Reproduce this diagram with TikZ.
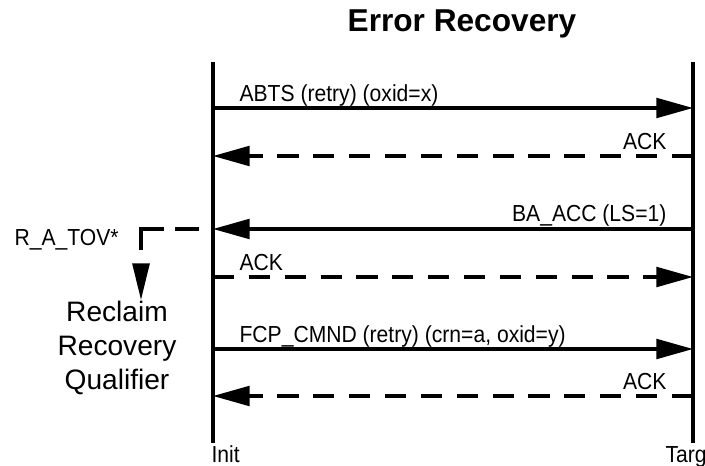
\documentclass[tikz,border=0pt]{standalone}
\usepackage{fontspec}
\setmainfont{Liberation Sans}
\newfontfamily\narrowsans[FakeStretch=0.91]{Liberation Sans}
\usetikzlibrary{positioning, arrows.meta}

\begin{document}
\begin{tikzpicture}[
  x=0.025cm, y=-0.025cm,
  line width=2.2pt,
  msg/.style={-{Triangle[length=26pt, width=14pt]}},
  dashes/.style={dash pattern=on 15pt off 10.5pt},
  reply/.style={msg, dashes},
  lbl/.style={font=\narrowsans\fontsize{16.5}{20}\selectfont, inner sep=0pt},
]
  \useasboundingbox (0,0) rectangle (705,466);
  \node[font=\bfseries\fontsize{22.5}{27}\selectfont, anchor=base] (title) at (462,32) {Error Recovery};

  \coordinate (initTop) at (213,62);
  \coordinate (initBot) at (213,443);
  \coordinate (targTop) at (693,62);
  \coordinate (targBot) at (693,443);
  \draw (initTop) -- (initBot);
  \draw (targTop) -- (targBot);
  \node[lbl, anchor=base west] (init) at (210,462) {Init};
  \node[lbl, anchor=base west] (targ) at (664,462) {Targ};

  \foreach \n/\y in {1/108, 2/156, 3/229, 4/277, 5/349, 6/396} {
    \coordinate (i\n) at (213,\y);
    \coordinate (t\n) at (693,\y);
  }

  \draw[msg] (i1) -- (t1);
  \node[lbl, anchor=base west] (abts) at (238,102) {ABTS (retry) (oxid=x)};
  \draw[reply] (t2) -- (i2);
  \node[lbl, anchor=base east] (ack1) at (668,149) {ACK};
  \draw[msg] (t3) -- (i3);
  \node[lbl, anchor=base east] (baacc) at (668,221) {BA\_ACC (LS=1)};
  \draw[reply] (i4) -- (t4);
  \node[lbl, anchor=base west] (ack2) at (238,270) {ACK};
  \draw[msg] (i5) -- (t5);
  \node[lbl, anchor=base west] (fcp) at (238,342) {FCP\_CMND (retry) (crn=a, oxid=y)};
  \draw[reply] (t6) -- (i6);
  \node[lbl, anchor=base east] (ack3) at (668,389) {ACK};

  \coordinate (tovCorner) at (141,229);
  \coordinate (tovEnd) at (141,300);
  \draw[dashes, line cap=rect] (tovCorner) -- (i3);
  \draw[dashes, -{Triangle[length=26pt, width=12pt]}] (tovCorner) -- (tovEnd);
  \node[lbl, anchor=base west] (tov) at (13,245) {R\_A\_TOV*};
  \node[font=\fontsize{20}{24}\selectfont, align=center, anchor=north, inner sep=0pt] (rrq) at (117,300) {Reclaim\\Recovery\\Qualifier};
\end{tikzpicture}
\end{document}
